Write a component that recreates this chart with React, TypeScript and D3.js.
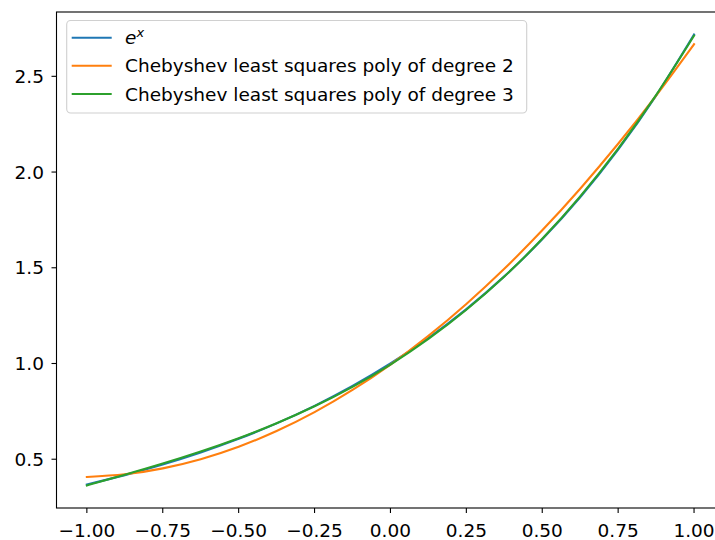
import React, { useEffect, useRef } from "react";
import * as d3 from "d3";

// sample points along x
const xs = [-1, -0.875, -0.75, -0.625, -0.5, -0.375, -0.25, -0.125, 0, 0.125, 0.25, 0.375, 0.5, 0.625, 0.75, 0.875, 1];
const expValues = [0.3679, 0.4169, 0.4724, 0.5353, 0.6065, 0.6873, 0.7788, 0.8825, 1.0, 1.1331, 1.284, 1.455, 1.6487, 1.8682, 2.117, 2.3989, 2.7183];
const cheb2Values = [0.4073, 0.4213, 0.4523, 0.5002, 0.5652, 0.6471, 0.7459, 0.8618, 0.9946, 1.1443, 1.3111, 1.4948, 1.6955, 1.9131, 2.1478, 2.3993, 2.6679];
const cheb3Values = [0.3629, 0.4189, 0.4772, 0.5401, 0.6095, 0.6876, 0.7764, 0.878, 0.9946, 1.1281, 1.2806, 1.4543, 1.6511, 1.8733, 2.1228, 2.4018, 2.7122];

const xTicks = [-1, -0.75, -0.5, -0.25, 0, 0.25, 0.5, 0.75, 1];
const yTicks = [0.5, 1.0, 1.5, 2.0, 2.5];

const seriesNames = ["e^x", "Chebyshev least squares poly of degree 2", "Chebyshev least squares poly of degree 3"];
const seriesColors = ["#1f77b4", "#ff7f0e", "#2ca02c"];

const App: React.FC = () => {
  const ref = useRef<SVGSVGElement>(null);

  useEffect(() => {
    if (!ref.current) return;
    const svg = d3.select(ref.current);
    svg.selectAll("*").remove();

    const left = 56.5, right = 724.4, top = 12, bottom = 508;
    const x = d3.scaleLinear().domain([-1.1, 1.1]).range([left, right]);
    const y = d3.scaleLinear().domain([0.2452, 2.836]).range([bottom, top]);
    const font = "DejaVu Sans, sans-serif";
    const fs = 18.5;

    svg.append("rect").attr("width", 715).attr("height", 540).attr("fill", "#fff");

    // lines
    const line = d3
      .line<[number, number]>()
      .x((d) => x(d[0]))
      .y((d) => y(d[1]))
      .curve(d3.curveNatural);

    [expValues, cheb2Values, cheb3Values].forEach((vals, i) => {
      svg
        .append("path")
        .attr("d", line(xs.map((v, j) => [v, vals[j]] as [number, number])))
        .attr("fill", "none")
        .attr("stroke", seriesColors[i])
        .attr("stroke-width", 2.1)
        .attr("stroke-linecap", "square");
    });

    // spines
    svg.append("rect")
      .attr("x", left).attr("y", top)
      .attr("width", right - left).attr("height", bottom - top)
      .attr("fill", "none").attr("stroke", "#000").attr("stroke-width", 1.1);

    // x ticks
    const fmtX = (v: number) => (v < 0 ? "\u2212" : "") + Math.abs(v).toFixed(2);
    xTicks.forEach((t) => {
      svg.append("line")
        .attr("x1", x(t)).attr("x2", x(t))
        .attr("y1", bottom).attr("y2", bottom + 5)
        .attr("stroke", "#000").attr("stroke-width", 1.1);
      svg.append("text")
        .attr("x", x(t)).attr("y", 537)
        .attr("text-anchor", "middle")
        .attr("font-family", font).attr("font-size", fs)
        .attr("fill", "#000")
        .text(fmtX(t));
    });

    // y ticks
    yTicks.forEach((t) => {
      svg.append("line")
        .attr("x1", left - 5).attr("x2", left)
        .attr("y1", y(t)).attr("y2", y(t))
        .attr("stroke", "#000").attr("stroke-width", 1.1);
      svg.append("text")
        .attr("x", 44).attr("y", y(t))
        .attr("dy", "0.36em")
        .attr("text-anchor", "end")
        .attr("font-family", font).attr("font-size", fs)
        .attr("fill", "#000")
        .text(t.toFixed(1));
    });

    // legend
    const lg = svg.append("g");
    lg.append("rect")
      .attr("x", 66.7).attr("y", 20.5)
      .attr("width", 460).attr("height", 92.5)
      .attr("rx", 4)
      .attr("fill", "#fff").attr("fill-opacity", 0.8)
      .attr("stroke", "#d0d0d0").attr("stroke-width", 1.1);

    const rowY = [37.7, 65.7, 94];
    seriesNames.forEach((name, i) => {
      lg.append("line")
        .attr("x1", 71.7).attr("x2", 111.7)
        .attr("y1", rowY[i]).attr("y2", rowY[i])
        .attr("stroke", seriesColors[i]).attr("stroke-width", 2.1);
      const txt = lg.append("text")
        .attr("x", 125).attr("y", rowY[i])
        .attr("dy", "0.36em")
        .attr("font-family", font).attr("font-size", fs)
        .attr("fill", "#000");
      if (i === 0) {
        txt.append("tspan").attr("font-style", "italic").text("e");
        txt.append("tspan")
          .attr("font-style", "italic")
          .attr("font-size", fs * 0.7)
          .attr("dy", "-0.55em")
          .text("x");
      } else {
        txt.text(name);
      }
    });
  }, []);

  return (
    <svg
      ref={ref}
      width={715}
      height={540}
      style={{ position: "absolute", left: 0, top: 0 }}
    />
  );
};

export default App;
